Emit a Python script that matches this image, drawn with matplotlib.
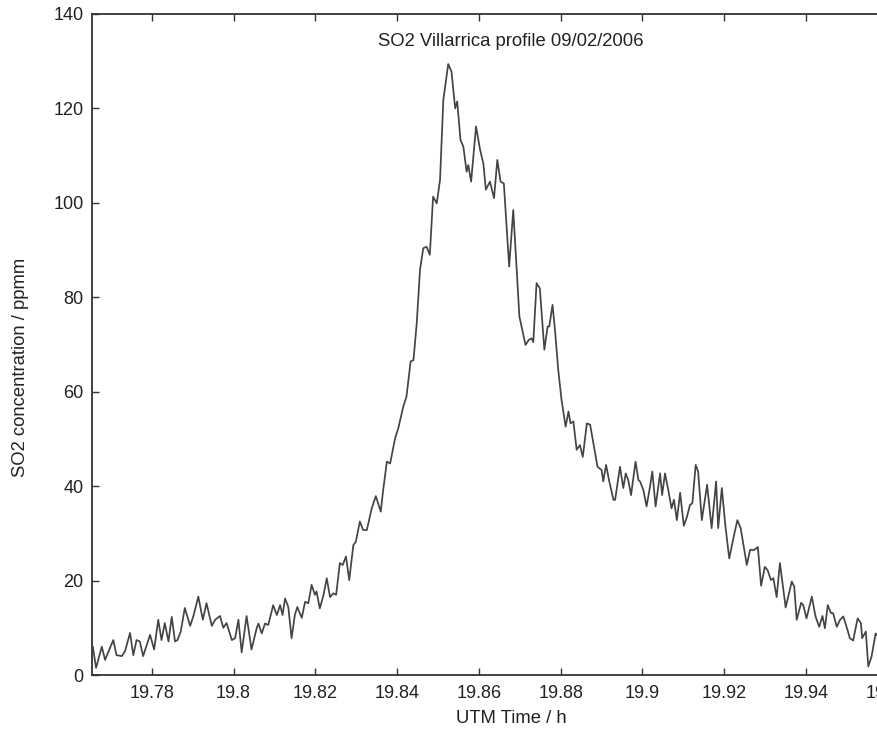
import numpy as np
import matplotlib
matplotlib.use("Agg")
import matplotlib.pyplot as plt
from matplotlib.ticker import FuncFormatter

# UTM time (h) and SO2 column (ppmm)
utm_time = [
    19.7656, 19.7664, 19.7678, 19.7686, 19.7706, 19.7714, 19.7727, 19.7735,
    19.7747, 19.7755, 19.7763, 19.7771, 19.7779, 19.7796, 19.7806, 19.7816,
    19.7824, 19.7832, 19.7841, 19.7849, 19.7857, 19.7863, 19.7871, 19.7881,
    19.7894, 19.7902, 19.7914, 19.7925, 19.7934, 19.7947, 19.7955, 19.7967,
    19.7975, 19.7983, 19.7996, 19.8004, 19.8012, 19.8020, 19.8032, 19.8044,
    19.8057, 19.8061, 19.8069, 19.8077, 19.8085, 19.8097, 19.8106, 19.8114,
    19.8120, 19.8126, 19.8134, 19.8142, 19.8150, 19.8156, 19.8167, 19.8175,
    19.8183, 19.8191, 19.8199, 19.8203, 19.8211, 19.8220, 19.8228, 19.8236,
    19.8244, 19.8251, 19.8260, 19.8267, 19.8275, 19.8283, 19.8293, 19.8299,
    19.8309, 19.8317, 19.8326, 19.8338, 19.8348, 19.8360, 19.8366, 19.8375,
    19.8383, 19.8395, 19.8403, 19.8415, 19.8423, 19.8433, 19.8440, 19.8448,
    19.8456, 19.8464, 19.8472, 19.8480, 19.8488, 19.8497, 19.8505, 19.8513,
    19.8525, 19.8533, 19.8542, 19.8547, 19.8555, 19.8562, 19.8570, 19.8574,
    19.8581, 19.8593, 19.8603, 19.8611, 19.8617, 19.8627, 19.8637, 19.8645,
    19.8653, 19.8661, 19.8674, 19.8684, 19.8699, 19.8714, 19.8722, 19.8729,
    19.8733, 19.8741, 19.8749, 19.8760, 19.8768, 19.8772, 19.8780, 19.8786,
    19.8794, 19.8802, 19.8812, 19.8819, 19.8824, 19.8831, 19.8839, 19.8847,
    19.8854, 19.8864, 19.8872, 19.8880, 19.8890, 19.8900, 19.8904, 19.8911,
    19.8918, 19.8929, 19.8933, 19.8945, 19.8953, 19.8959, 19.8965, 19.8972,
    19.8983, 19.8990, 19.8994, 19.9002, 19.9010, 19.9017, 19.9024, 19.9032,
    19.9043, 19.9048, 19.9055, 19.9063, 19.9071, 19.9077, 19.9084, 19.9092,
    19.9101, 19.9108, 19.9116, 19.9122, 19.9130, 19.9136, 19.9145, 19.9158,
    19.9169, 19.9180, 19.9185, 19.9194, 19.9202, 19.9212, 19.9224, 19.9232,
    19.9240, 19.9255, 19.9263, 19.9273, 19.9282, 19.9290, 19.9299, 19.9306,
    19.9314, 19.9320, 19.9328, 19.9336, 19.9350, 19.9365, 19.9371, 19.9377,
    19.9388, 19.9393, 19.9401, 19.9414, 19.9423, 19.9432, 19.9440, 19.9446,
    19.9453, 19.9461, 19.9466, 19.9475, 19.9483, 19.9491, 19.9499, 19.9507,
    19.9515, 19.9526, 19.9534, 19.9537, 19.9546, 19.9552, 19.9560, 19.9570,
    19.9577,
]
so2_ppmm = [
    6.0, 1.5, 6.0, 3.2, 7.4, 4.2, 4.0, 5.1,
    8.9, 4.2, 7.4, 7.1, 4.0, 8.5, 5.4, 11.7,
    7.4, 11.0, 7.1, 12.3, 7.1, 7.4, 9.2, 14.2,
    10.4, 12.5, 16.6, 11.7, 15.2, 10.4, 11.7, 12.5,
    10.0, 11.0, 7.4, 7.8, 11.7, 4.8, 12.5, 5.4,
    10.0, 10.9, 8.8, 10.9, 10.6, 14.8, 12.7, 14.8,
    12.7, 16.2, 14.4, 7.8, 12.7, 14.4, 12.1, 15.5,
    15.2, 19.1, 17.0, 17.7, 14.1, 16.9, 20.5, 16.5,
    17.3, 17.0, 23.7, 23.3, 25.1, 20.1, 27.5, 28.2,
    32.5, 30.7, 30.7, 35.3, 37.9, 34.6, 39.2, 45.2,
    44.8, 50.1, 52.3, 56.8, 59.0, 66.4, 66.7, 74.5,
    85.8, 90.4, 90.7, 89.0, 101.3, 99.9, 104.9, 121.8,
    129.4, 127.8, 120.0, 121.5, 113.3, 111.9, 106.6, 108.0,
    104.5, 116.2, 111.2, 108.3, 102.8, 104.5, 101.0, 109.1,
    104.5, 104.1, 86.5, 98.5, 75.9, 69.9, 71.0, 71.3,
    70.5, 83.0, 81.9, 68.9, 73.8, 73.8, 78.4, 73.1,
    64.6, 58.3, 52.6, 55.8, 53.3, 53.7, 47.7, 48.7,
    46.2, 53.3, 53.0, 49.1, 44.1, 43.4, 41.0, 44.5,
    41.3, 37.1, 37.1, 44.1, 39.6, 42.7, 41.3, 38.1,
    45.2, 41.3, 41.0, 39.2, 35.7, 39.2, 43.1, 35.7,
    42.7, 38.1, 42.7, 39.2, 35.3, 37.1, 32.8, 38.6,
    31.6, 33.3, 36.0, 36.4, 44.5, 43.1, 32.8, 40.3,
    31.1, 41.0, 31.1, 39.6, 32.1, 24.7, 29.7, 32.8,
    31.1, 23.3, 26.5, 26.5, 27.1, 18.9, 22.9, 22.2,
    20.1, 20.5, 16.5, 23.7, 14.3, 19.8, 18.7, 11.7,
    15.3, 14.8, 12.0, 16.6, 12.4, 10.2, 12.5, 9.9,
    14.8, 13.1, 13.1, 10.2, 11.7, 12.4, 10.2, 7.8,
    7.3, 12.0, 11.0, 7.8, 9.2, 1.8, 3.9, 8.8,
    8.1,
]
x_ticks = [19.78, 19.80, 19.82, 19.84, 19.86, 19.88, 19.90, 19.92, 19.94, 19.96]
y_ticks = [0, 20, 40, 60, 80, 100, 120, 140]

plt.rcParams['font.family'] = ['Liberation Sans', 'DejaVu Sans']

fig = plt.figure(figsize=(8.78, 7.34), dpi=100)
W, H = 878.0, 734.0
# axes runs past the right edge of the picture (the original is cropped there)
left, right, top, bottom = 92.0, 930.0, 14.0, 675.0
ax = fig.add_axes([left / W, 1 - bottom / H, (right - left) / W, (bottom - top) / H])

ax.plot(utm_time, so2_ppmm, color='#444444', linewidth=1.25)

px_per_h = 81.8 / 0.02
ax.set_xlim(19.78 - (151.7 - left) / px_per_h, 19.78 + (right - 151.7) / px_per_h)
ax.set_ylim(0, 140)
ax.set_xticks(x_ticks)
ax.set_yticks(y_ticks)
ax.xaxis.set_major_formatter(FuncFormatter(lambda v, p: '%g' % round(v, 2)))

ax.tick_params(direction='in', length=5, width=1, colors='#333333',
               labelsize=13, top=True, right=True)
ax.tick_params(axis='y', pad=6)
ax.tick_params(axis='x', pad=7)
for sp in ax.spines.values():
    sp.set_color('#333333')
    sp.set_linewidth(1.3)
for lab in ax.get_xticklabels() + ax.get_yticklabels():
    lab.set_color('#222222')

ax.text(0.5, 0.958, 'SO2 Villarrica profile 09/02/2006', transform=ax.transAxes,
        ha='center', va='center', fontsize=13.3, color='#222222')
ax.set_xlabel('UTM Time / h', fontsize=13.3, color='#222222')
ax.set_ylabel('SO2 concentration / ppmm', fontsize=13.3, color='#222222')
ax.xaxis.set_label_coords(0.5, (bottom - 710) / (bottom - top))
ax.yaxis.set_label_coords((29 - left) / (right - left), (bottom - 367) / (bottom - top))

fig.savefig('out.png', dpi=100)
